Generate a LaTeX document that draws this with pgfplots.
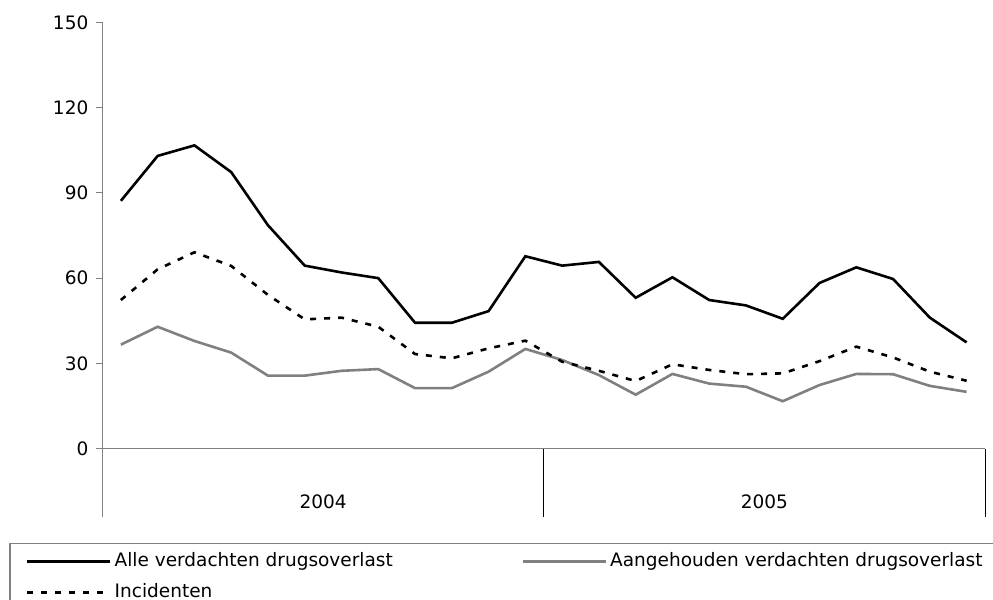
\documentclass[border=0pt]{standalone}
\usepackage{fontspec}
\setmainfont{DejaVu Sans}
\usepackage{pgfplots}
\pgfplotsset{compat=1.18}
\definecolor{grijs}{HTML}{808080}

\begin{document}
\begin{tikzpicture}[font=\fontsize{18.5bp}{22bp}\selectfont]
\useasboundingbox (-102.5bp,-151.3bp) rectangle (890.5bp,448.7bp);
\begin{axis}[
    at={(0,0)}, anchor=south west,
    scale only axis,
    width=882.5bp, height=426.4bp,
    xmin=0, xmax=24,
    ymin=0, ymax=150,
    axis lines*=left,
    axis line style={grijs, line width=1.5bp},
    xtick=\empty,
    ytick={0,30,60,90,120,150},
    ytick pos=left,
    tick align=outside,
    major tick length=6bp,
    tick style={grijs, line width=1.2bp},
    yticklabel style={font=\fontsize{18.5bp}{22bp}\selectfont, inner sep=0pt, xshift=-8bp},
    /pgf/number format/assume math mode=true,
    clip=false,
    legend columns=2,
    legend cell align={left},
    legend image code/.code={\draw[#1] (0bp,0bp) -- (83bp,0bp);},
    legend style={at={(0,0)}, anchor=north west, xshift=-93.2bp, yshift=-94bp,
        draw=grijs, line width=1.5bp, inner xsep=16bp, inner ysep=9bp,
        column sep=3bp, row sep=13bp,
        nodes={inner sep=0pt, text height=14bp, text depth=4bp},
        font=\fontsize{18.5bp}{22bp}\selectfont},
]

% Alle verdachten drugsoverlast
\addplot[black, line width=2.6bp] coordinates {
    (0.5,87.2) (1.5,103.0) (2.5,106.7) (3.5,97.3) (4.5,78.6) (5.5,64.4)
    (6.5,62.0) (7.5,60.0) (8.5,44.3) (9.5,44.3) (10.5,48.4) (11.5,67.7)
    (12.5,64.4) (13.5,65.7) (14.5,53.1) (15.5,60.3) (16.5,52.3) (17.5,50.4)
    (18.5,45.7) (19.5,58.3) (20.5,63.8) (21.5,59.7) (22.5,46.1) (23.5,37.4)
};
\addlegendentry{\makebox[404bp][l]{Alle verdachten drugsoverlast}}

% Aangehouden verdachten drugsoverlast
\addplot[grijs, line width=2.6bp] coordinates {
    (0.5,36.6) (1.5,42.9) (2.5,37.9) (3.5,33.8) (4.5,25.7) (5.5,25.7)
    (6.5,27.4) (7.5,28.0) (8.5,21.3) (9.5,21.3) (10.5,27.1) (11.5,35.1)
    (12.5,31.2) (13.5,25.9) (14.5,19.0) (15.5,26.3) (16.5,22.9) (17.5,21.8)
    (18.5,16.7) (19.5,22.4) (20.5,26.3) (21.5,26.2) (22.5,22.1) (23.5,20.0)
};
\addlegendentry{Aangehouden verdachten drugsoverlast}

% Incidenten
\addplot[black, line width=2.6bp, dash pattern=on 6bp off 8bp] coordinates {
    (0.5,52.3) (1.5,63.1) (2.5,69.1) (3.5,64.3) (4.5,54.1) (5.5,45.5)
    (6.5,46.1) (7.5,42.9) (8.5,33.3) (9.5,31.8) (10.5,35.3) (11.5,38.0)
    (12.5,30.6) (13.5,27.4) (14.5,23.8) (15.5,29.7) (16.5,27.7) (17.5,26.2)
    (18.5,26.5) (19.5,30.8) (20.5,35.9) (21.5,32.1) (22.5,27.1) (23.5,23.9)
};
\addlegendentry{Incidenten}

% category band below the axis
\draw[grijs, line width=1.5bp] (axis cs:0,0) -- (axis cs:0,-23.9);
\draw[black, line width=0.8bp] (axis cs:12,0) -- (axis cs:12,-23.9);
\draw[black, line width=0.8bp] (axis cs:24,0) -- (axis cs:24,-23.9);
\node at (axis cs:6,-18.6) {2004};
\node at (axis cs:18,-18.6) {2005};

\end{axis}
\end{tikzpicture}
\end{document}
